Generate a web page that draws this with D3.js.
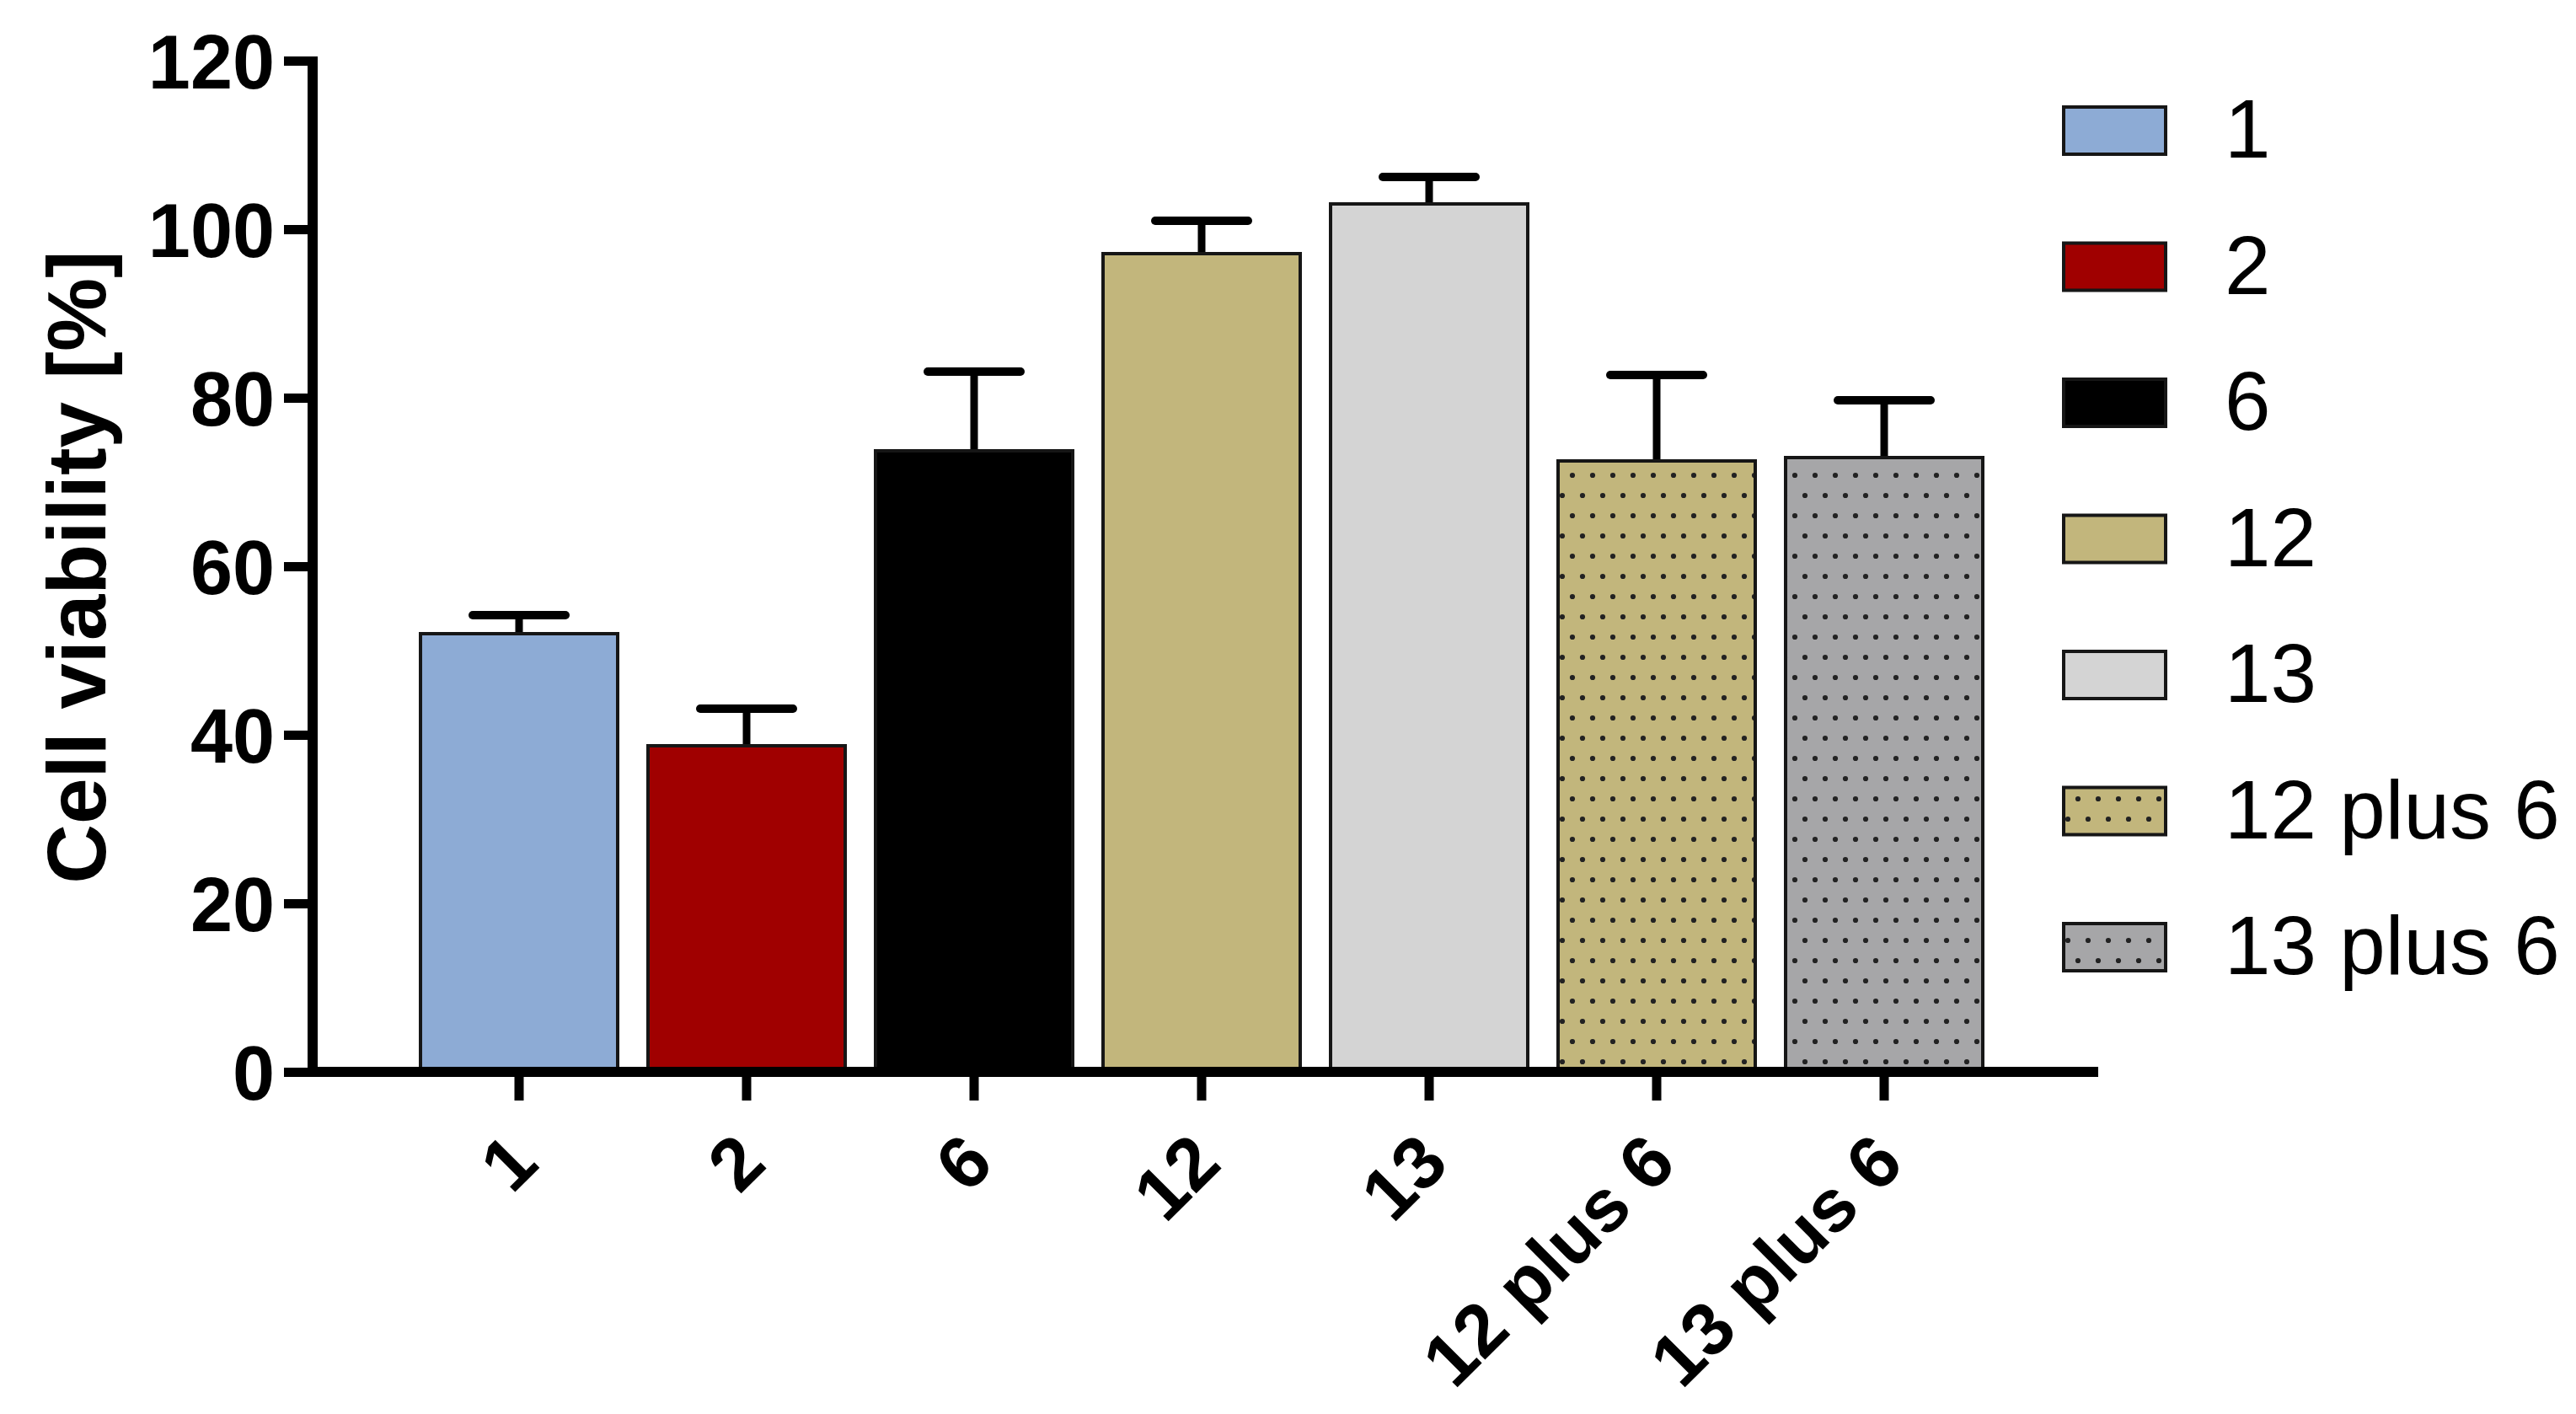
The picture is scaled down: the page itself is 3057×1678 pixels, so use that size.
<!DOCTYPE html>
<html><head><meta charset="utf-8">
<script src="https://cdn.jsdelivr.net/npm/d3@7"></script>
<style>body{margin:0;background:#fff}svg{display:block}</style>
</head><body>
<svg id="chart" width="3057" height="1678"></svg>
<script>
// ---- data ----
const categories = ["1", "2", "6", "12", "13", "12 plus 6", "13 plus 6"];
const means  = [52.0, 38.7, 73.7, 97.1, 103.0, 72.5, 72.9];
const errors = [2.2, 4.4, 9.4, 3.9, 3.2, 10.2, 6.8];
const fills  = ["#8DABD5", "#A00000", "#000000", "#C2B67C", "#D4D4D4", "#C2B67C", "#A6A6A8"];
const dotted = [false, false, false, false, false, true, true];
const yTicks = [0, 20, 40, 60, 80, 100, 120];
const yLabel = "Cell viability [%]";

// ---- layout ----
const FONT = "'Liberation Sans', Arial, Helvetica, sans-serif";
const svg = d3.select("#chart");
svg.append("rect").attr("width", 3057).attr("height", 1678).attr("fill", "#fff");

const y = d3.scaleLinear().domain([0, 120]).range([1272, 72]);
const x = d3.scaleBand().domain(categories).range([481, 2371])
  .paddingInner(32 / 270).paddingOuter(16 / 270);
const axisX = 371, axisEnd = 2490;

// patterns
const defs = svg.append("defs");
categories.forEach((c, i) => {
  if (!dotted[i]) return;
  const p = defs.append("pattern").attr("id", "dots" + i)
    .attr("patternUnits", "userSpaceOnUse").attr("width", 24).attr("height", 48);
  p.append("rect").attr("width", 24).attr("height", 48).attr("fill", fills[i]);
  p.append("circle").attr("cx", 6).attr("cy", 12).attr("r", 3.1).attr("fill", "#222");
  p.append("circle").attr("cx", 18).attr("cy", 36).attr("r", 3.1).attr("fill", "#222");
});
const fillOf = i => dotted[i] ? `url(#dots${i})` : fills[i];

// bars
svg.append("g").selectAll("rect").data(categories).join("rect")
  .attr("x", d => x(d) + 2)
  .attr("width", x.bandwidth() - 4)
  .attr("y", (d, i) => y(means[i]))
  .attr("height", (d, i) => y(0) - y(means[i]))
  .attr("fill", (d, i) => fillOf(i))
  .attr("stroke", "#161616").attr("stroke-width", 4);

// error bars
const eg = svg.append("g").attr("stroke", "#000");
categories.forEach((c, i) => {
  const cx = x(c) + x.bandwidth() / 2;
  eg.append("line").attr("x1", cx).attr("x2", cx)
    .attr("y1", y(means[i]) - 2).attr("y2", y(means[i] + errors[i]))
    .attr("stroke-width", 9);
  eg.append("line").attr("x1", cx - 55).attr("x2", cx + 55)
    .attr("y1", y(means[i] + errors[i])).attr("y2", y(means[i] + errors[i]))
    .attr("stroke-width", 10).attr("stroke-linecap", "round");
});

// y axis
const ya = svg.append("g").attr("transform", `translate(${axisX},0)`)
  .call(d3.axisLeft(y).tickValues(yTicks).tickSize(34).tickSizeOuter(0).tickPadding(11));
ya.select(".domain").remove();
ya.selectAll(".tick line").attr("stroke", "#000").attr("stroke-width", 11);
ya.selectAll(".tick text").attr("font-family", FONT).attr("font-size", 90)
  .attr("font-weight", "bold").attr("fill", "#000").attr("dy", "0.36em");
svg.append("line").attr("x1", axisX).attr("x2", axisX)
  .attr("y1", y(120) - 5).attr("y2", y(0) + 6)
  .attr("stroke", "#000").attr("stroke-width", 12);

// x axis
const xa = svg.append("g").attr("transform", `translate(0,${y(0)})`)
  .call(d3.axisBottom(x).tickSize(34).tickSizeOuter(0));
xa.select(".domain").remove();
xa.selectAll(".tick line").attr("stroke", "#000").attr("stroke-width", 11);
xa.selectAll(".tick text")
  .attr("x", 0).attr("y", 0).attr("dy", 0)
  .attr("text-anchor", "end")
  .attr("transform", "translate(26,112) rotate(-45)")
  .attr("font-family", FONT).attr("font-size", 88).attr("font-weight", "bold").attr("fill", "#000");
svg.append("line").attr("x1", axisX - 6).attr("x2", axisEnd)
  .attr("y1", y(0)).attr("y2", y(0))
  .attr("stroke", "#000").attr("stroke-width", 12);

// y title
svg.append("text").text(yLabel)
  .attr("transform", "translate(125,673) rotate(-90)")
  .attr("text-anchor", "middle")
  .attr("font-family", FONT).attr("font-size", 98).attr("font-weight", "bold").attr("fill", "#000");

// legend
const lg = svg.append("g");
categories.forEach((c, i) => {
  const top = 125 + i * 161.5;
  lg.append("rect").attr("x", 2449).attr("y", top + 2).attr("width", 121).attr("height", 56)
    .attr("fill", fillOf(i)).attr("stroke", "#161616").attr("stroke-width", 4);
  lg.append("text").text(c).attr("x", 2640).attr("y", top + 62)
    .attr("font-family", FONT).attr("font-size", 98).attr("fill", "#000");
});
</script>
</body></html>
